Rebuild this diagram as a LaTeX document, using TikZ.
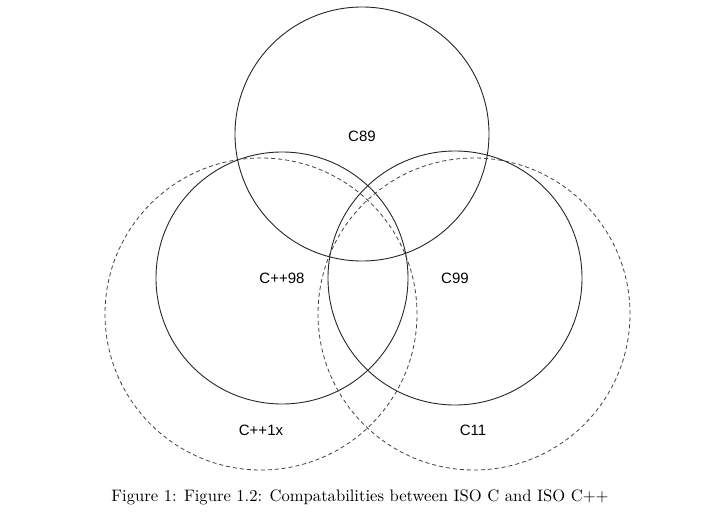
\documentclass[tikz,border=0pt]{standalone}
\usepackage{fontspec}
\newfontfamily\labelfont{Liberation Sans}
\begin{document}
\begin{tikzpicture}[x=1pt,y=-1pt,
  setsolid/.style={draw=black!85, line width=0.9pt, circle, inner sep=0pt, outer sep=0pt},
  setdashed/.style={draw=black!75, line width=0.8pt, circle, inner sep=0pt, outer sep=0pt, dash pattern=on 4pt off 3pt},
  setlabel/.style={font=\labelfont\fontsize{15}{18}\selectfont, inner sep=0pt}]
\useasboundingbox (0,0) rectangle (718,522);
\node[setsolid, minimum size=254pt] (c89) at (362,134) {};
\node[setsolid, minimum size=252pt] (cpp98) at (282,278) {};
\node[setsolid, minimum size=254pt] (c99) at (455,278) {};
\node[setdashed, minimum size=312pt] (cpp1x) at (261,314) {};
\node[setdashed, minimum size=312pt] (c11) at (474,314) {};
\node[setlabel] (l89) at (362,136) {C89};
\node[setlabel] (l98) at (282,278) {C++98};
\node[setlabel] (l99) at (455,278) {C99};
\node[setlabel] (l1x) at (261,430) {C++1x};
\node[setlabel] (l11) at (473,430) {C11};
\node[inner sep=0pt] (cap) at (360,497) {\scalebox{1.66}{\fontsize{10}{12}\selectfont Figure 1: Figure 1.2: Compatabilities between ISO C and ISO C++}};
\end{tikzpicture}
\end{document}
